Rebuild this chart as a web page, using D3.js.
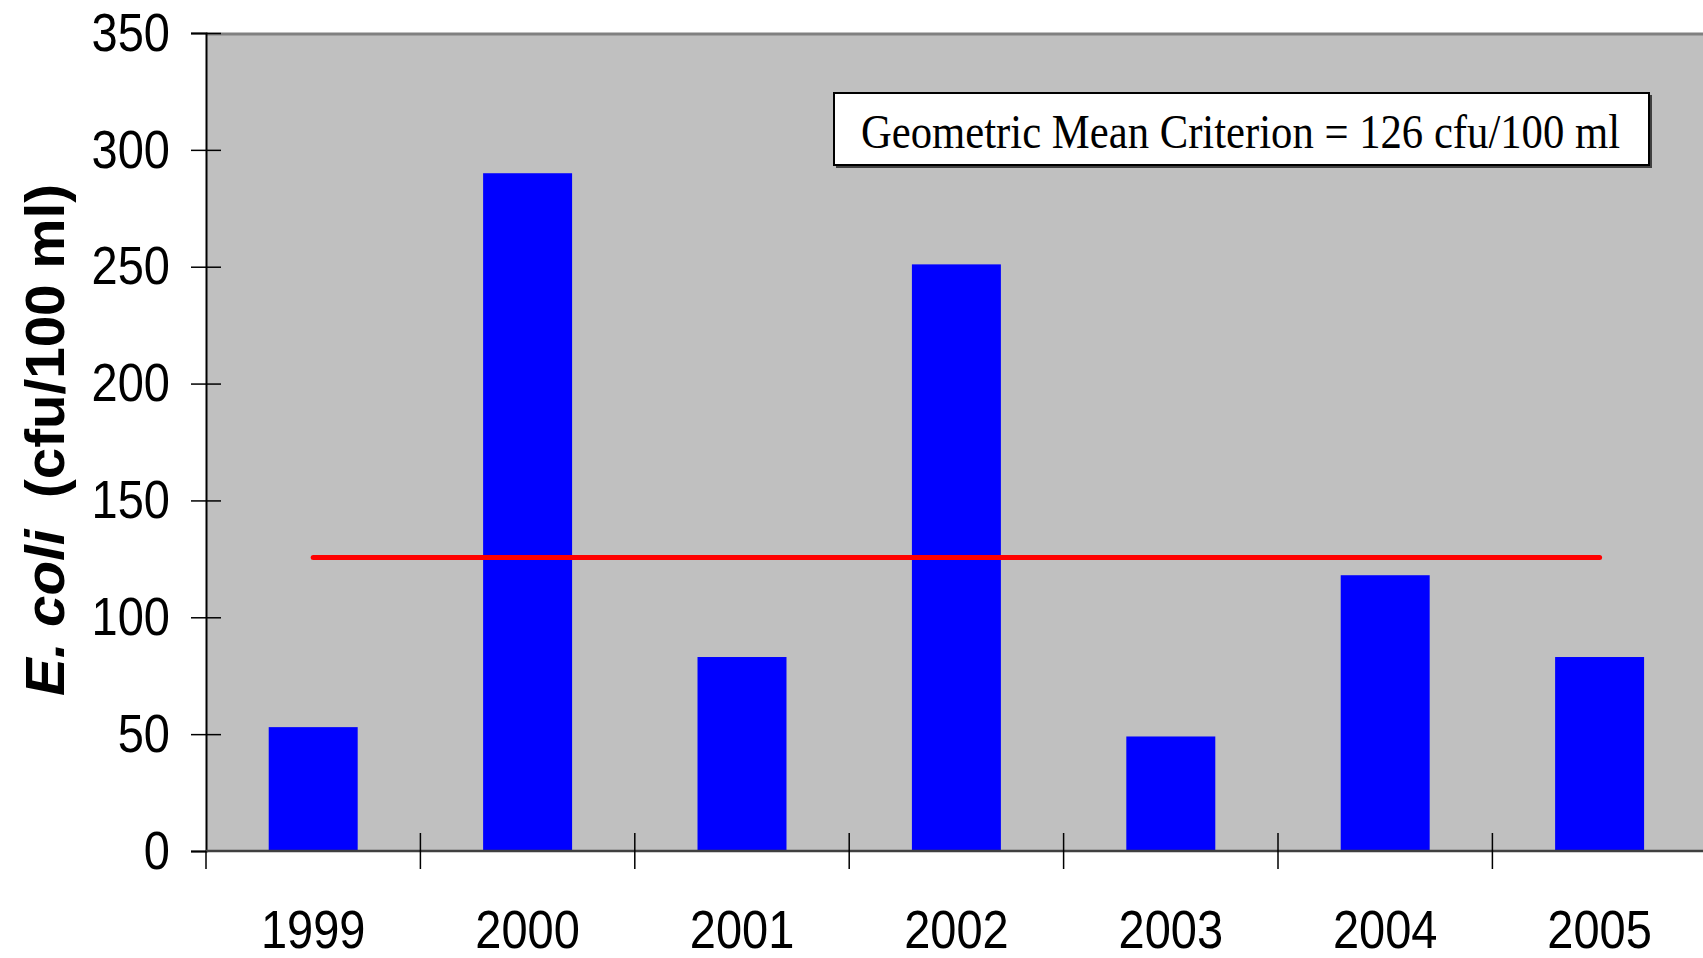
<!DOCTYPE html>
<html>
<head>
<meta charset="utf-8">
<script src="https://cdn.jsdelivr.net/npm/d3@7"></script>
<style>
  body { margin: 0; background: #fff; }
  svg { display: block; }
</style>
</head>
<body>
<svg id="chart" width="1703" height="958"></svg>
<script>
// data
var years = ['1999', '2000', '2001', '2002', '2003', '2004', '2005'];
var ecoli = [53, 290, 83, 251, 49, 118, 83];
var criterion = 126;
var yTicks = [0, 50, 100, 150, 200, 250, 300, 350];
var boxLabel = 'Geometric Mean Criterion = 126 cfu/100 ml';

var svg = d3.select('#chart');
var plotL = 206, plotT = 33, plotB = 851, plotR = 1703;
var bandW = 214.4;

var x = d3.scaleBand()
  .domain(years)
  .range([plotL, plotL + bandW * years.length])
  .paddingInner(0).paddingOuter(0);
var y = d3.scaleLinear().domain([0, 350]).range([plotB, plotT]);

// plot area
svg.append('rect')
  .attr('x', plotL).attr('y', plotT)
  .attr('width', plotR - plotL).attr('height', plotB - plotT)
  .attr('fill', '#c0c0c0');
svg.append('line')
  .attr('x1', plotL).attr('x2', plotR)
  .attr('y1', plotT + 1).attr('y2', plotT + 1)
  .attr('stroke', '#808080').attr('stroke-width', 3);

// bars
var barW = bandW * 0.415;
svg.selectAll('rect.bar')
  .data(years)
  .enter().append('rect')
  .attr('class', 'bar')
  .attr('x', function(d){ return x(d) + (bandW - barW) / 2; })
  .attr('y', function(d, i){ return y(ecoli[i]); })
  .attr('width', barW)
  .attr('height', function(d, i){ return plotB - y(ecoli[i]); })
  .attr('fill', '#0000ff');

// criterion line, from first to last bar centre
svg.append('line')
  .attr('x1', x(years[0]) + bandW / 2)
  .attr('x2', x(years[years.length - 1]) + bandW / 2)
  .attr('y1', y(criterion) + 1).attr('y2', y(criterion) + 1)
  .attr('stroke', '#ff0000').attr('stroke-width', 5)
  .attr('stroke-linecap', 'round');

// y axis
var yAxis = svg.append('g')
  .attr('transform', 'translate(' + plotL + ',0)')
  .call(d3.axisLeft(y).tickValues(yTicks).tickSize(15).tickPadding(21));
yAxis.select('.domain').attr('stroke', '#000').attr('stroke-width', 2);
yAxis.selectAll('.tick line')
  .attr('x1', function(d){ return d === 0 ? 0 : 15; })
  .attr('x2', -15)
  .attr('stroke', '#000').attr('stroke-width', 1.5);
yAxis.selectAll('.tick text')
  .attr('font-family', 'Liberation Sans, Arial, sans-serif')
  .attr('font-size', 54)
  .attr('fill', '#000');

// x axis line
svg.append('line')
  .attr('x1', plotL).attr('x2', plotR)
  .attr('y1', plotB).attr('y2', plotB)
  .attr('stroke', '#404040').attr('stroke-width', 2.5);

// x axis labels
var xAxis = svg.append('g')
  .attr('transform', 'translate(0,' + plotB + ')')
  .call(d3.axisBottom(x).tickSize(0).tickPadding(59));
xAxis.select('.domain').remove();
xAxis.selectAll('.tick text')
  .attr('font-family', 'Liberation Sans, Arial, sans-serif')
  .attr('font-size', 54)
  .attr('fill', '#000');

// category boundary ticks
var edges = years.map(function(d){ return x(d); });
svg.selectAll('line.xtick')
  .data(edges)
  .enter().append('line')
  .attr('class', 'xtick')
  .attr('x1', function(d){ return d; }).attr('x2', function(d){ return d; })
  .attr('y1', function(d, i){ return i === 0 ? plotB : plotB - 18; })
  .attr('y2', plotB + 18)
  .attr('stroke', '#000').attr('stroke-width', 1.5);

// squeeze the sans labels a little, like the source
svg.selectAll('.tick text').each(function(){
  var w = this.getComputedTextLength();
  d3.select(this).attr('textLength', w * 0.87).attr('lengthAdjust', 'spacingAndGlyphs');
});

// y title
var title = svg.append('text')
  .attr('transform', 'translate(64,440) rotate(-90)')
  .attr('text-anchor', 'middle')
  .attr('font-family', 'Liberation Sans, Arial, sans-serif')
  .attr('font-weight', 'bold')
  .attr('font-size', 56)
  .attr('textLength', 512)
  .attr('lengthAdjust', 'spacingAndGlyphs');
title.append('tspan').attr('font-style', 'italic').text('E. coli');
title.append('tspan').attr('xml:space', 'preserve').text('  (cfu/100 ml)');

// criterion box
svg.append('rect')
  .attr('x', 836).attr('y', 95)
  .attr('width', 816).attr('height', 73)
  .attr('fill', '#404040');
svg.append('rect')
  .attr('x', 834).attr('y', 93)
  .attr('width', 815).attr('height', 72)
  .attr('fill', '#fff').attr('stroke', '#000').attr('stroke-width', 2);
svg.append('text')
  .attr('x', 861).attr('y', 148)
  .attr('font-family', 'Liberation Serif, Times New Roman, serif')
  .attr('font-size', 49)
  .attr('textLength', 759)
  .attr('lengthAdjust', 'spacingAndGlyphs')
  .text(boxLabel);
</script>
</body>
</html>
